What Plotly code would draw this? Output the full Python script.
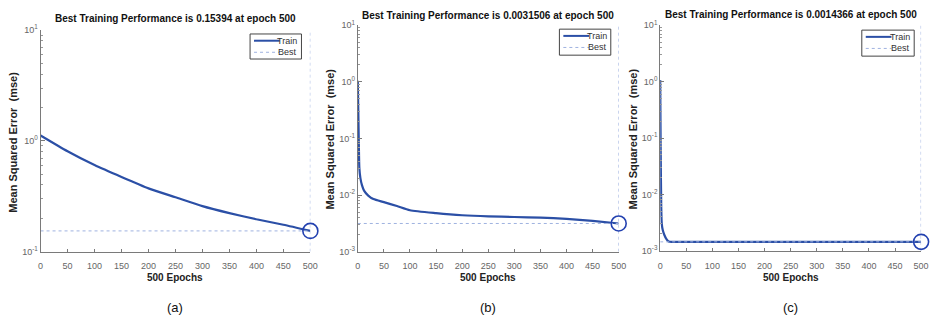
import plotly.graph_objects as go

# Training curves (mean squared error per epoch) for three networks
epochs_a = [0, 50, 100, 150, 200, 250, 300, 350, 400, 450, 500]
mse_a = [1.12, 0.807, 0.605, 0.472, 0.373, 0.31, 0.258, 0.223, 0.196, 0.175, 0.15394]

epochs_b = [0, 1, 2, 3, 5, 8, 12, 20, 30, 50, 75, 100, 150, 200, 250, 300, 350, 400, 450, 500]
mse_b = [1.05, 0.3, 0.08, 0.03, 0.02, 0.015, 0.012, 0.0098, 0.0085, 0.0075, 0.0064, 0.0054,
         0.0048, 0.0044, 0.0042, 0.0041, 0.0040, 0.0038, 0.0035, 0.0031506]

epochs_c = [0, 1, 2, 3, 5, 8, 12, 16, 20, 100, 200, 300, 400, 500]
mse_c = [1.07, 0.05, 0.006, 0.003, 0.0023, 0.0019, 0.0016, 0.00146, 0.00144, 0.00144,
         0.00144, 0.00144, 0.00144, 0.0014366]

best_a, best_b, best_c = 0.15394, 0.0031506, 0.0014366
best_epoch = 500

titles = ["Best Training Performance is 0.15394 at epoch 500",
          "Best Training Performance is 0.0031506 at epoch 500",
          "Best Training Performance is 0.0014366 at epoch 500"]
panel_tags = ["(a)", "(b)", "(c)"]
legend_names = ["Train", "Best"]
x_ticks = [0, 50, 100, 150, 200, 250, 300, 350, 400, 450, 500]
y_ranges = [(-1, 1), (-3, 1), (-3, 1)]

W, H = 938, 327
FONT = "Liberation Sans, Arial, sans-serif"
TRAIN = "#2b4fa6"
BEST = "#9fb2e0"
AXIS = "#7a7a7a"

# Plot-area boxes in pixels: left, right, top, bottom
boxes = [(38, 311, 24, 254), (359, 623, 19, 254), (665, 929, 19, 253)]
title_y = [12, 9, 8]
# Legend boxes in pixels: left, right, top, bottom
legend_boxes = [(250, 302, 28, 54), (563, 615, 23, 50), (869, 922, 24, 51)]

series = [(epochs_a, mse_a, best_a), (epochs_b, mse_b, best_b), (epochs_c, mse_c, best_c)]


def px(x):
    return x / W


def py(y):
    return 1 - y / H


fig = go.Figure()
layout = dict(width=W, height=H, margin=dict(l=0, r=0, t=0, b=0),
              paper_bgcolor="white", plot_bgcolor="white", showlegend=False,
              font=dict(family=FONT, color=AXIS))
annotations = []
shapes = []

for i, ((ep, mse, best), (l, r, t, b), (y0, y1)) in enumerate(zip(series, boxes, y_ranges)):
    n = "" if i == 0 else str(i + 1)
    xa, ya = "x" + n, "y" + n

    fig.add_trace(go.Scatter(x=ep, y=mse, mode="lines", name=legend_names[0],
                             line=dict(color=TRAIN, width=2.2, shape="spline", smoothing=0.6),
                             xaxis=xa, yaxis=ya))
    fig.add_trace(go.Scatter(x=[ep[0], best_epoch], y=[best, best], mode="lines",
                             name=legend_names[1], line=dict(color=BEST, width=1, dash="dot"),
                             xaxis=xa, yaxis=ya))
    fig.add_trace(go.Scatter(x=[best_epoch, best_epoch], y=[10 ** y0, 10 ** y1], mode="lines",
                             name=legend_names[1], line=dict(color=BEST, width=1, dash="dot"),
                             xaxis=xa, yaxis=ya))
    fig.add_trace(go.Scatter(x=[best_epoch], y=[best], mode="markers", name=legend_names[1],
                             marker=dict(symbol="circle-open", size=15, color="#2341b0",
                                         line=dict(width=1.6)),
                             xaxis=xa, yaxis=ya, cliponaxis=False))

    ytv = [10 ** k for k in range(y0, y1 + 1)]
    ytt = ["10<sup>%d</sup>" % k for k in range(y0, y1 + 1)]
    minor_vals = [m * 10 ** k for k in range(y0, y1) for m in range(2, 10)]

    layout["xaxis" + n] = dict(
        domain=[px(l), px(r)], anchor=ya, range=[0, 500], tickvals=x_ticks,
        ticktext=[str(v) for v in x_ticks], ticks="inside", ticklen=3, tickcolor=AXIS,
        ticklabelstandoff=6,
        showline=True, linecolor=AXIS, linewidth=1, showgrid=False, zeroline=False,
        tickfont=dict(size=9, color="#666666", family=FONT), fixedrange=True)
    layout["yaxis" + n] = dict(
        domain=[py(b), py(t)], anchor=xa, type="log", range=[y0, y1],
        tickvals=ytv, ticktext=ytt, ticks="inside", ticklen=4, tickcolor=AXIS,
        minor=dict(tickvals=minor_vals, ticks="inside", ticklen=2, tickcolor="#999999"),
        showline=True, linecolor=AXIS, linewidth=1, showgrid=False, zeroline=False,
        tickfont=dict(size=9, color="#666666", family=FONT), fixedrange=True)

    # legend box with its two entries
    ll, lr, lt, lb = legend_boxes[i]
    shapes.append(dict(type="rect", xref="paper", yref="paper", x0=px(ll), x1=px(lr),
                       y0=py(lb), y1=py(lt), line=dict(color="#444444", width=1),
                       fillcolor="white", layer="above"))
    row1, row2 = lt + 7, lt + 19
    shapes.append(dict(type="line", xref="paper", yref="paper", x0=px(ll + 4), x1=px(ll + 30),
                       y0=py(row1), y1=py(row1), line=dict(color=TRAIN, width=2),
                       layer="above"))
    shapes.append(dict(type="line", xref="paper", yref="paper", x0=px(ll + 4), x1=px(ll + 30),
                       y0=py(row2), y1=py(row2), line=dict(color=BEST, width=1, dash="dot"),
                       layer="above"))
    for name, ry in zip(legend_names, (row1, row2)):
        annotations.append(dict(text=name, x=px(lr - 2), y=py(ry), xref="paper", yref="paper",
                                xanchor="right", yanchor="middle", showarrow=False,
                                font=dict(size=9, color="#333333", family=FONT)))

    cx = (l + r) / 2
    annotations += [
        dict(text="<b>%s</b>" % titles[i], x=px(cx), y=py(title_y[i]), xref="paper",
             yref="paper", xanchor="center", yanchor="middle", showarrow=False,
             font=dict(size=10, color="#111111", family=FONT)),
        dict(text="<b>500 Epochs</b>", x=px(cx), y=py(281), xref="paper", yref="paper",
             xanchor="center", yanchor="middle", showarrow=False,
             font=dict(size=10, color="#222222", family=FONT)),
        dict(text=panel_tags[i], x=px(cx), y=py(312), xref="paper", yref="paper",
             xanchor="center", yanchor="middle", showarrow=False,
             font=dict(size=13, color="#111111", family=FONT)),
        dict(text="<b>Mean Squared Error  (mse)</b>", x=px(l - 28), y=py((t + b) / 2 + 1),
             xref="paper", yref="paper", xanchor="center", yanchor="middle", textangle=-90,
             showarrow=False, font=dict(size=11, color="#222222", family=FONT)),
    ]

layout["annotations"] = annotations
layout["shapes"] = shapes
fig.update_layout(**layout)
fig.write_html("out.html", config={"displayModeBar": False})
